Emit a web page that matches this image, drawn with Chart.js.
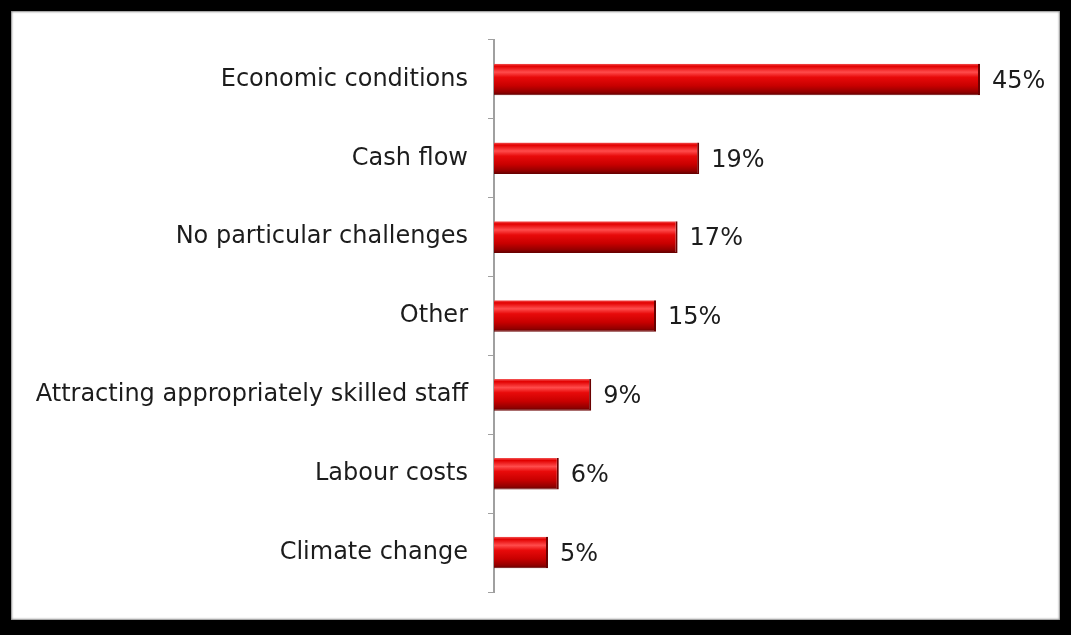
<!DOCTYPE html>
<html>
<head>
<meta charset="utf-8">
<script src="https://cdn.jsdelivr.net/npm/chart.js@4/dist/chart.umd.min.js"></script>
<style>
  html, body { margin: 0; padding: 0; background: #000; }
  #frame { position: relative; width: 1071px; height: 635px; background: #000; }
  #panel {
    position: absolute; left: 11px; top: 11px; width: 1049px; height: 609px;
    background: #fff; box-shadow: inset 0 0 2px 1px #888;
  }
  #panel canvas { position: absolute; left: 0; top: 0; }
</style>
</head>
<body>
<div id="frame">
  <div id="panel"><canvas id="challenges-chart" width="1049" height="609"></canvas></div>
</div>
<script>
// Biggest business challenges (% of respondents)
var categories = [
  'Economic conditions',
  'Cash flow',
  'No particular challenges',
  'Other',
  'Attracting appropriately skilled staff',
  'Labour costs',
  'Climate change'
];
var shares = [45, 19, 17, 15, 9, 6, 5];
var valueLabels = ['45%', '19%', '17%', '15%', '9%', '6%', '5%'];

var FONT = '"DejaVu Sans", Verdana, sans-serif';
var CAT_PCT = 0.8;
var BAR_PCT = 0.5;

// glossy red fill, one gradient per bar
function barFill(ctx) {
  var chart = ctx.chart;
  if (!chart.chartArea || !chart.scales.y) return '#d00000';
  var y = chart.scales.y;
  var mid = y.getPixelForValue(ctx.dataIndex);
  var h = (y.height / categories.length) * CAT_PCT * BAR_PCT;
  var g = chart.ctx.createLinearGradient(0, mid - h / 2, 0, mid + h / 2);
  g.addColorStop(0, '#f45858');
  g.addColorStop(0.08, '#e20000');
  g.addColorStop(0.27, '#ff4c4c');
  g.addColorStop(0.43, '#e80a0a');
  g.addColorStop(0.7, '#c80000');
  g.addColorStop(0.9, '#930000');
  g.addColorStop(1, '#600000');
  return g;
}

// percent text to the right of each bar
var valueText = {
  id: 'valueText',
  afterDatasetsDraw: function(chart) {
    var c = chart.ctx;
    var meta = chart.getDatasetMeta(0);
    c.save();
    c.font = '24px ' + FONT;
    c.fillStyle = '#1c1c1c';
    c.textBaseline = 'middle';
    c.textAlign = 'left';
    meta.data.forEach(function(bar, i) {
      c.fillText(valueLabels[i], bar.x + 12, bar.y + 2);
    });
    c.restore();
  }
};

new Chart(document.getElementById('challenges-chart').getContext('2d'), {
  type: 'bar',
  data: {
    labels: categories,
    datasets: [{
      data: shares,
      backgroundColor: barFill,
      borderColor: '#6a0000',
      borderWidth: { top: 0, left: 0, right: 2, bottom: 1 },
      borderSkipped: false,
      categoryPercentage: CAT_PCT,
      barPercentage: BAR_PCT
    }]
  },
  options: {
    indexAxis: 'y',
    responsive: false,
    animation: false,
    layout: { padding: { left: 0, right: 26, top: 29, bottom: 28 } },
    plugins: {
      legend: { display: false },
      tooltip: { enabled: false }
    },
    scales: {
      x: {
        display: false,
        min: 0,
        max: 50
      },
      y: {
        afterFit: function(scale) {
          scale.width = 483;
          scale.paddingTop = 0;
          scale.paddingBottom = 0;
        },
        grid: {
          offset: true,
          drawOnChartArea: false,
          drawTicks: true,
          tickLength: 6,
          color: '#a0a0a0',
          lineWidth: 1
        },
        border: { display: true, color: '#a0a0a0', width: 2 },
        ticks: {
          padding: 20,
          color: '#1c1c1c',
          font: { family: FONT, size: 24 }
        }
      }
    }
  },
  plugins: [valueText]
});
</script>
</body>
</html>
